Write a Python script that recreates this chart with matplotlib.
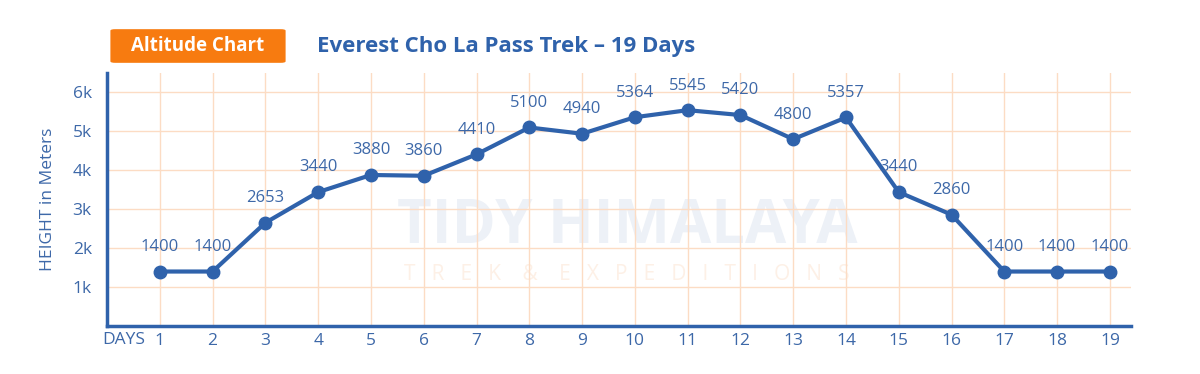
import matplotlib.pyplot as plt
from matplotlib.patches import FancyBboxPatch

# 数据
days = list(range(1, 20))
heights = [1400, 1400, 2653, 3440, 3880, 3860, 4410, 5100, 4940, 5364,
           5545, 5420, 4800, 5357, 3440, 2860, 1400, 1400, 1400]
ytick_vals = [1000, 2000, 3000, 4000, 5000, 6000]
ytick_labels = ['1k', '2k', '3k', '4k', '5k', '6k']

blue = '#2f62ab'
txt_blue = '#3d68a8'
grid_c = '#fcdcc4'
orange = '#f77b10'

plt.rcParams['font.family'] = ['Open Sans', 'DejaVu Sans']

fig = plt.figure(figsize=(12, 3.74), dpi=100)
ax = fig.add_axes([0.0892, 0.1283, 0.8533, 0.6765])

ax.set_xlim(0, 19.4)
ax.set_ylim(0, 6500)
ax.set_xticks(days)
ax.set_xticklabels([str(d) for d in days], fontsize=12.5, color=txt_blue)
ax.set_yticks(ytick_vals)
ax.set_yticklabels(ytick_labels, fontsize=12.5, color=txt_blue)
ax.tick_params(axis='x', length=0, pad=5)
ax.tick_params(axis='y', length=0, pad=11)
ax.grid(True, color=grid_c, lw=1)
ax.set_axisbelow(True)
for s in ['top', 'right']:
    ax.spines[s].set_visible(False)
for s in ['left', 'bottom']:
    ax.spines[s].set_color(blue)
    ax.spines[s].set_linewidth(2.5)

# 水印
ax.text(0.508, 0.39, 'TIDY HIMALAYA', transform=ax.transAxes, ha='center', va='center',
        fontsize=43, fontweight='bold', color='#edf1f7', zorder=0)
ax.text(0.508, 0.205, 'T   R   E   K    &    E   X   P   E   D   I   T   I   O   N   S',
        transform=ax.transAxes, ha='center', va='center', fontsize=15, color='#fdf0e6', zorder=0)

ax.plot(days, heights, color=blue, lw=3, marker='o', ms=9, zorder=3)
for d, h in zip(days, heights):
    ax.annotate(str(h), (d, h), xytext=(0, 12), textcoords='offset points',
                ha='center', va='bottom', fontsize=12, color=txt_blue)

ax.set_ylabel('HEIGHT in Meters', fontsize=12.5, color=txt_blue, labelpad=12)
fig.text(0.085, 0.092, 'DAYS', ha='left', va='center', fontsize=12.5, color=txt_blue)

# 标题
box = FancyBboxPatch((0.092, 0.832), 0.146, 0.09, boxstyle='round,pad=0,rounding_size=0.004',
                     transform=fig.transFigure, facecolor=orange, edgecolor='none')
fig.patches.append(box)
fig.text(0.165, 0.876, 'Altitude Chart', ha='center', va='center', fontsize=13.5,
         fontweight='bold', color='white')
fig.text(0.264, 0.876, 'Everest Cho La Pass Trek \u2013 19 Days', ha='left', va='center',
         fontsize=16, fontweight='bold', color=blue)

fig.savefig('out.png', dpi=100)
